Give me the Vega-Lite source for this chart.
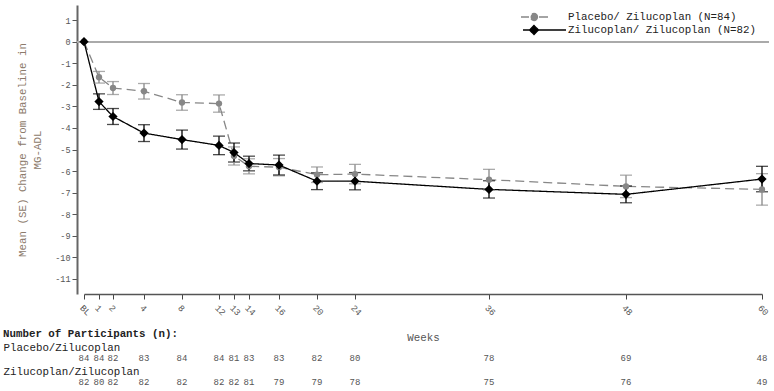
{
  "$schema": "https://vega.github.io/schema/vega-lite/v6.json",
  "padding": {"left": 3, "top": 5, "right": 0, "bottom": 0},
  "config": {"font": "Liberation Mono", "view": {"stroke": null}},
  "spacing": 58,
  "bounds": "flush",
  "vconcat": [
    {
      "width": 692,
      "height": 289,
      "data": {"values": [
        {"group": "Placebo/ Zilucoplan (N=84)", "week": 0, "mean": 0, "se": 0},
        {"group": "Placebo/ Zilucoplan (N=84)", "week": 1, "mean": -1.65, "se": 0.27},
        {"group": "Placebo/ Zilucoplan (N=84)", "week": 2, "mean": -2.15, "se": 0.30},
        {"group": "Placebo/ Zilucoplan (N=84)", "week": 4, "mean": -2.30, "se": 0.36},
        {"group": "Placebo/ Zilucoplan (N=84)", "week": 8, "mean": -2.82, "se": 0.36},
        {"group": "Placebo/ Zilucoplan (N=84)", "week": 12, "mean": -2.87, "se": 0.40},
        {"group": "Placebo/ Zilucoplan (N=84)", "week": 13, "mean": -5.30, "se": 0.42},
        {"group": "Placebo/ Zilucoplan (N=84)", "week": 14, "mean": -5.78, "se": 0.35},
        {"group": "Placebo/ Zilucoplan (N=84)", "week": 16, "mean": -5.82, "se": 0.40},
        {"group": "Placebo/ Zilucoplan (N=84)", "week": 20, "mean": -6.17, "se": 0.36},
        {"group": "Placebo/ Zilucoplan (N=84)", "week": 24, "mean": -6.14, "se": 0.45},
        {"group": "Placebo/ Zilucoplan (N=84)", "week": 36, "mean": -6.40, "se": 0.48},
        {"group": "Placebo/ Zilucoplan (N=84)", "week": 48, "mean": -6.71, "se": 0.52},
        {"group": "Placebo/ Zilucoplan (N=84)", "week": 60, "mean": -6.85, "se": 0.73},
        {"group": "Zilucoplan/ Zilucoplan (N=82)", "week": 0, "mean": 0, "se": 0},
        {"group": "Zilucoplan/ Zilucoplan (N=82)", "week": 1, "mean": -2.78, "se": 0.36},
        {"group": "Zilucoplan/ Zilucoplan (N=82)", "week": 2, "mean": -3.47, "se": 0.37},
        {"group": "Zilucoplan/ Zilucoplan (N=82)", "week": 4, "mean": -4.24, "se": 0.39},
        {"group": "Zilucoplan/ Zilucoplan (N=82)", "week": 8, "mean": -4.54, "se": 0.44},
        {"group": "Zilucoplan/ Zilucoplan (N=82)", "week": 12, "mean": -4.81, "se": 0.43},
        {"group": "Zilucoplan/ Zilucoplan (N=82)", "week": 13, "mean": -5.14, "se": 0.44},
        {"group": "Zilucoplan/ Zilucoplan (N=82)", "week": 14, "mean": -5.65, "se": 0.34},
        {"group": "Zilucoplan/ Zilucoplan (N=82)", "week": 16, "mean": -5.72, "se": 0.46},
        {"group": "Zilucoplan/ Zilucoplan (N=82)", "week": 20, "mean": -6.47, "se": 0.39},
        {"group": "Zilucoplan/ Zilucoplan (N=82)", "week": 24, "mean": -6.47, "se": 0.40},
        {"group": "Zilucoplan/ Zilucoplan (N=82)", "week": 36, "mean": -6.85, "se": 0.40},
        {"group": "Zilucoplan/ Zilucoplan (N=82)", "week": 48, "mean": -7.08, "se": 0.39},
        {"group": "Zilucoplan/ Zilucoplan (N=82)", "week": 60, "mean": -6.37, "se": 0.59}
      ]},
      "layer": [
        {
          "mark": {"type": "rule", "color": "#aaaaaa", "strokeWidth": 1.5},
          "encoding": {
            "y": {
              "datum": 0, "type": "quantitative", "title": ["Mean (SE) Change from Baseline in", "MG-ADL"],
              "scale": {"domain": [-11.7, 1.7], "nice": false, "zero": false},
              "axis": {
                "title": ["Mean (SE) Change from Baseline in", "MG-ADL"],
                "values": [-11, -10, -9, -8, -7, -6, -5, -4, -3, -2, -1, 0, 1],
                "tickCount": 14, "tickMinStep": 1,
                "labelExpr": "datum.value + ''", "labelOverlap": false,
                "labelFontSize": 8.5, "labelColor": "#555555", "tickSize": 5, "tickColor": "#555555",
                "domainColor": "#666666", "domainWidth": 2, "grid": false,
                "titleFontSize": 10.8, "titleFontWeight": "normal", "titleColor": "#8c7a6b",
                "titleLineHeight": 15, "titlePadding": 12
              }
            }
          }
        },
        {
          "mark": {"type": "line", "strokeWidth": 1.3},
          "encoding": {
            "x": {
              "field": "week", "type": "quantitative", "title": "Weeks",
              "scale": {"domain": [0, 1, 2, 4, 8, 12, 13, 14, 16, 20, 24, 36, 48, 60], "range": [7, 22, 36, 67, 105, 142, 157, 172, 202, 240, 278, 412, 549, 685]},
              "axis": {
                "title": "Weeks", "values": [0, 1, 2, 4, 8, 12, 13, 14, 16, 20, 24, 36, 48, 60],
                "labelExpr": "datum.value == 0 ? 'BL' : datum.label", "labelOverlap": false,
                "labelAngle": 45, "labelFontSize": 9, "labelColor": "#555555", "labelPadding": 4,
                "tickSize": 5, "tickColor": "#444444", "domainColor": "#555555", "domainWidth": 1.5,
                "grid": false, "titleFontSize": 10.8, "titleFontWeight": "normal", "titleColor": "#555555", "titlePadding": 14
              }
            },
            "y": {
              "field": "mean", "type": "quantitative", "title": ["Mean (SE) Change from Baseline in", "MG-ADL"],
              "scale": {"domain": [-11.7, 1.7], "nice": false, "zero": false},
              "axis": {
                "title": ["Mean (SE) Change from Baseline in", "MG-ADL"],
                "values": [-11, -10, -9, -8, -7, -6, -5, -4, -3, -2, -1, 0, 1],
                "tickCount": 14, "tickMinStep": 1,
                "labelExpr": "datum.value + ''", "labelOverlap": false,
                "labelFontSize": 8.5, "labelColor": "#555555", "tickSize": 5, "tickColor": "#555555",
                "domainColor": "#666666", "domainWidth": 2, "grid": false,
                "titleFontSize": 10.8, "titleFontWeight": "normal", "titleColor": "#8c7a6b",
                "titleLineHeight": 15, "titlePadding": 12
              }
            },
            "color": {
              "field": "group", "type": "nominal",
              "scale": {"domain": ["Placebo/ Zilucoplan (N=84)", "Zilucoplan/ Zilucoplan (N=82)"], "range": ["#878787", "#000000"]},
              "legend": {
                "title": null, "orient": "none", "legendX": 451, "legendY": 6, "padding": 0,
                "labelFontSize": 10.8, "labelColor": "#222222", "labelFont": "Liberation Mono", "labelLimit": 0,
                "symbolSize": 100, "labelOffset": 28, "rowPadding": -5, "symbolStrokeWidth": 1.3
              }
            },
            "strokeDash": {
              "field": "group", "type": "nominal",
              "scale": {"domain": ["Placebo/ Zilucoplan (N=84)", "Zilucoplan/ Zilucoplan (N=82)"], "range": [[9, 5], [1, 0]]},
              "legend": null
            }
          }
        },
        {
          "transform": [{"filter": "datum.week > 0"}],
          "mark": {"type": "errorbar", "ticks": true, "size": 12, "thickness": 1.3},
          "encoding": {
            "x": {"field": "week", "type": "quantitative", "title": "Weeks", "scale": {"domain": [0, 1, 2, 4, 8, 12, 13, 14, 16, 20, 24, 36, 48, 60], "range": [7, 22, 36, 67, 105, 142, 157, 172, 202, 240, 278, 412, 549, 685]}},
            "y": {"field": "mean", "type": "quantitative", "title": ["Mean (SE) Change from Baseline in", "MG-ADL"], "scale": {"domain": [-11.7, 1.7], "nice": false, "zero": false}},
            "yError": {"field": "se"},
            "color": {"field": "group", "type": "nominal", "legend": null}
          }
        },
        {
          "transform": [{"filter": "datum.group == 'Placebo/ Zilucoplan (N=84)'"}],
          "mark": {"type": "point", "shape": "circle", "filled": true, "color": "#878787", "size": 40, "opacity": 1},
          "encoding": {
            "x": {"field": "week", "type": "quantitative", "title": "Weeks", "scale": {"domain": [0, 1, 2, 4, 8, 12, 13, 14, 16, 20, 24, 36, 48, 60], "range": [7, 22, 36, 67, 105, 142, 157, 172, 202, 240, 278, 412, 549, 685]}},
            "y": {"field": "mean", "type": "quantitative", "title": ["Mean (SE) Change from Baseline in", "MG-ADL"], "scale": {"domain": [-11.7, 1.7], "nice": false, "zero": false}}
          }
        },
        {
          "transform": [{"filter": "datum.group == 'Zilucoplan/ Zilucoplan (N=82)'"}],
          "mark": {"type": "point", "shape": "diamond", "filled": true, "color": "#000000", "size": 85, "opacity": 1},
          "encoding": {
            "x": {"field": "week", "type": "quantitative", "title": "Weeks", "scale": {"domain": [0, 1, 2, 4, 8, 12, 13, 14, 16, 20, 24, 36, 48, 60], "range": [7, 22, 36, 67, 105, 142, 157, 172, 202, 240, 278, 412, 549, 685]}},
            "y": {"field": "mean", "type": "quantitative", "title": ["Mean (SE) Change from Baseline in", "MG-ADL"], "scale": {"domain": [-11.7, 1.7], "nice": false, "zero": false}}
          }
        },
        {
          "transform": [{"filter": "datum.week < 0"}],
          "mark": {"type": "point", "filled": true, "opacity": 1},
          "encoding": {
            "x": {"field": "week", "type": "quantitative", "title": "Weeks", "scale": {"domain": [0, 1, 2, 4, 8, 12, 13, 14, 16, 20, 24, 36, 48, 60], "range": [7, 22, 36, 67, 105, 142, 157, 172, 202, 240, 278, 412, 549, 685]}},
            "y": {"field": "mean", "type": "quantitative", "title": ["Mean (SE) Change from Baseline in", "MG-ADL"], "scale": {"domain": [-11.7, 1.7], "nice": false, "zero": false}},
            "color": {"field": "group", "type": "nominal", "legend": {
                "title": null, "orient": "none", "legendX": 451, "legendY": 6, "padding": 0,
                "labelFontSize": 10.8, "labelColor": "#222222", "labelFont": "Liberation Mono", "labelLimit": 0,
                "symbolSize": 100, "labelOffset": 28, "rowPadding": -5, "symbolStrokeWidth": 1.3
              }},
            "shape": {
              "field": "group", "type": "nominal",
              "scale": {"domain": ["Placebo/ Zilucoplan (N=84)", "Zilucoplan/ Zilucoplan (N=82)"], "range": ["M-2.6,0H-1.0M1.0,0H2.8M0.7,0A0.7,0.7,0,1,1,-0.7,0A0.7,0.7,0,1,1,0.7,0Z", "M-2.2,0H6.4M0,-0.9L0.9,0L0,0.9L-0.9,0Z"]},
              "legend": {
                "title": null, "orient": "none", "legendX": 451, "legendY": 6, "padding": 0,
                "labelFontSize": 10.8, "labelColor": "#222222", "labelFont": "Liberation Mono", "labelLimit": 0,
                "symbolSize": 100, "labelOffset": 28, "rowPadding": -5, "symbolStrokeWidth": 1.3
              }
            }
          }
        }
      ]
    },
    {
      "width": 692,
      "height": 36,
      "title": {"text": "Number of Participants (n):", "anchor": "start", "fontWeight": "bold", "fontSize": 10.8, "color": "#222222", "offset": 2, "font": "Liberation Mono"},
      "data": {"values": [
        {"arm": "Placebo/Zilucoplan", "week": 0, "n": 84},
        {"arm": "Placebo/Zilucoplan", "week": 1, "n": 84},
        {"arm": "Placebo/Zilucoplan", "week": 2, "n": 82},
        {"arm": "Placebo/Zilucoplan", "week": 4, "n": 83},
        {"arm": "Placebo/Zilucoplan", "week": 8, "n": 84},
        {"arm": "Placebo/Zilucoplan", "week": 12, "n": 84},
        {"arm": "Placebo/Zilucoplan", "week": 13, "n": 81},
        {"arm": "Placebo/Zilucoplan", "week": 14, "n": 83},
        {"arm": "Placebo/Zilucoplan", "week": 16, "n": 83},
        {"arm": "Placebo/Zilucoplan", "week": 20, "n": 82},
        {"arm": "Placebo/Zilucoplan", "week": 24, "n": 80},
        {"arm": "Placebo/Zilucoplan", "week": 36, "n": 78},
        {"arm": "Placebo/Zilucoplan", "week": 48, "n": 69},
        {"arm": "Placebo/Zilucoplan", "week": 60, "n": 48},
        {"arm": "Zilucoplan/Zilucoplan", "week": 0, "n": 82},
        {"arm": "Zilucoplan/Zilucoplan", "week": 1, "n": 80},
        {"arm": "Zilucoplan/Zilucoplan", "week": 2, "n": 82},
        {"arm": "Zilucoplan/Zilucoplan", "week": 4, "n": 82},
        {"arm": "Zilucoplan/Zilucoplan", "week": 8, "n": 82},
        {"arm": "Zilucoplan/Zilucoplan", "week": 12, "n": 82},
        {"arm": "Zilucoplan/Zilucoplan", "week": 13, "n": 82},
        {"arm": "Zilucoplan/Zilucoplan", "week": 14, "n": 81},
        {"arm": "Zilucoplan/Zilucoplan", "week": 16, "n": 79},
        {"arm": "Zilucoplan/Zilucoplan", "week": 20, "n": 79},
        {"arm": "Zilucoplan/Zilucoplan", "week": 24, "n": 78},
        {"arm": "Zilucoplan/Zilucoplan", "week": 36, "n": 75},
        {"arm": "Zilucoplan/Zilucoplan", "week": 48, "n": 76},
        {"arm": "Zilucoplan/Zilucoplan", "week": 60, "n": 49}
      ]},
      "mark": {"type": "text", "fontSize": 9, "color": "#555555", "font": "Liberation Mono"},
      "encoding": {
        "x": {"field": "week", "type": "quantitative", "scale": {"domain": [0, 1, 2, 4, 8, 12, 13, 14, 16, 20, 24, 36, 48, 60], "range": [7, 22, 36, 67, 105, 142, 157, 172, 202, 240, 278, 412, 549, 685]}, "axis": null},
        "y": {
          "field": "arm", "type": "nominal", "sort": ["Placebo/Zilucoplan", "Zilucoplan/Zilucoplan"],
          "scale": {"type": "point", "padding": 0.25},
          "axis": {"title": null, "domain": false, "ticks": false, "tickSize": 0, "labelAlign": "left", "labelPadding": 74, "labelOffset": -11, "labelFontSize": 10.8, "labelColor": "#222222", "labelBaseline": "middle", "labelFont": "Liberation Mono", "grid": false}
        },
        "text": {"field": "n", "type": "quantitative"}
      }
    }
  ]
}
